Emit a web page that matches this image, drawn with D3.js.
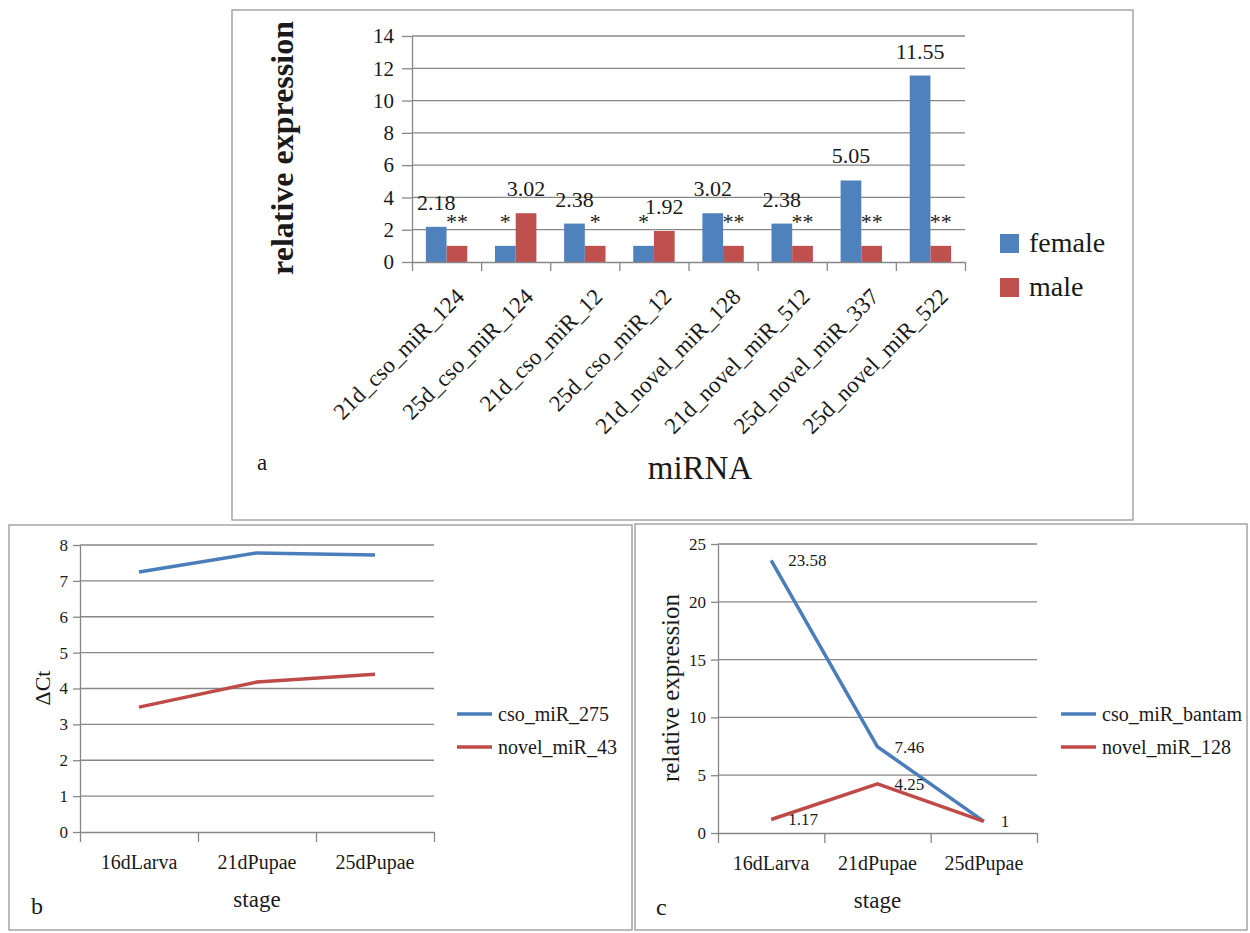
<!DOCTYPE html>
<html>
<head>
<meta charset="utf-8">
<script src="https://cdn.jsdelivr.net/npm/d3@7"></script>
<style>
  body { margin: 0; background: #fff; }
  svg text { font-family: "Liberation Serif", "Times New Roman", Times, "Nimbus Roman", "DejaVu Serif", serif; fill: #1a1a1a; }
</style>
</head>
<body>
<svg width="1250" height="933"></svg>
<script>
// panel a data
var miRNAs = ["21d_cso_miR_124", "25d_cso_miR_124", "21d_cso_miR_12", "25d_cso_miR_12",
              "21d_novel_miR_128", "21d_novel_miR_512", "25d_novel_miR_337", "25d_novel_miR_522"];
var female = [2.18, 1, 2.38, 1, 3.02, 2.38, 5.05, 11.55];
var male = [1, 3.02, 1, 1.92, 1, 1, 1, 1];
var femaleLabels = ["2.18", "*", "2.38", "*", "3.02", "2.38", "5.05", "11.55"];
var maleLabels = ["**", "3.02", "*", "1.92", "**", "**", "**", "**"];
var sexes = ["female", "male"];
var yTicksA = [0, 2, 4, 6, 8, 10, 12, 14];

// panel b / c data
var stages = ["16dLarva", "21dPupae", "25dPupae"];
var cso275 = [7.25, 7.78, 7.72];
var novel43 = [3.48, 4.18, 4.40];
var yTicksB = [0, 1, 2, 3, 4, 5, 6, 7, 8];
var bantam = [23.58, 7.46, 1];
var novel128 = [1.17, 4.25, 1];
var bantamLabels = ["23.58", "7.46", ""];
var novel128Labels = ["1.17", "4.25", "1"];
var yTicksC = [0, 5, 10, 15, 20, 25];

var blue = "#4f81bd", red = "#c0504d";
var lineBlue = "#4a7ebb", lineRed = "#be4b48";
var grid = "#878787";

var svg = d3.select("svg");

// frames
svg.append("rect").attr("x", 232).attr("y", 10).attr("width", 901).attr("height", 510)
  .attr("fill", "none").attr("stroke", "#a5a5a5").attr("stroke-width", 1.5);
svg.append("rect").attr("x", 9).attr("y", 525).attr("width", 623).attr("height", 405)
  .attr("fill", "none").attr("stroke", "#a5a5a5").attr("stroke-width", 1.5);
svg.append("rect").attr("x", 635).attr("y", 524).attr("width", 612).attr("height", 406)
  .attr("fill", "none").attr("stroke", "#a5a5a5").attr("stroke-width", 1.5);

function styleAxis(g) {
  g.attr("font-family", null).attr("font-size", null);
  g.selectAll("path").attr("stroke", grid).attr("stroke-width", 1.3);
  g.selectAll("line").attr("stroke", grid).attr("stroke-width", 1.3);
  g.selectAll("text").attr("fill", "#1a1a1a");
}

// ---------- panel a ----------
var ax0 = 412, ax1 = 965, ay0 = 262, ay1 = 36;
var xA = d3.scaleBand().domain(miRNAs).range([ax0, ax1]);
var xSex = d3.scaleBand().domain(sexes).range([0, xA.bandwidth()]).paddingOuter(0.67);
var xEdgeA = d3.scaleLinear().domain([0, miRNAs.length]).range([ax0, ax1]);
var yA = d3.scaleLinear().domain([0, 14]).range([ay0, ay1]);

var pa = svg.append("g");

pa.append("g").selectAll("line").data(yTicksA.slice(1)).enter().append("line")
  .attr("x1", ax0).attr("x2", ax1)
  .attr("y1", d => yA(d)).attr("y2", d => yA(d))
  .attr("stroke", grid).attr("stroke-width", 1.3);

var rowsA = miRNAs.map((m, i) => ({
  name: m,
  bars: [
    {sex: "female", v: female[i], lab: femaleLabels[i]},
    {sex: "male", v: male[i], lab: maleLabels[i]}
  ]
}));

var groups = pa.selectAll(".grp").data(rowsA).enter().append("g")
  .attr("class", "grp")
  .attr("transform", d => "translate(" + xA(d.name) + ",0)");

groups.selectAll("rect").data(d => d.bars).enter().append("rect")
  .attr("x", d => xSex(d.sex))
  .attr("width", xSex.bandwidth())
  .attr("y", d => yA(d.v))
  .attr("height", d => yA(0) - yA(d.v))
  .attr("fill", d => d.sex == "female" ? blue : red);

groups.selectAll("text").data(d => d.bars).enter().append("text")
  .attr("x", d => xSex(d.sex) + xSex.bandwidth() / 2)
  .attr("y", d => yA(d.v) - 17)
  .attr("text-anchor", "middle")
  .style("font-size", "22px")
  .text(d => d.lab);

var yAxisA = pa.append("g").attr("transform", "translate(" + ax0 + ",0)")
  .call(d3.axisLeft(yA).tickValues(yTicksA).tickSize(10).tickPadding(8).tickSizeOuter(0));
styleAxis(yAxisA);
yAxisA.selectAll("text").style("font-size", "21px");

var xAxisA = pa.append("g").attr("transform", "translate(0," + ay0 + ")")
  .call(d3.axisBottom(xEdgeA).tickValues(d3.range(miRNAs.length + 1)).tickFormat("").tickSize(9).tickSizeOuter(0));
styleAxis(xAxisA);

pa.selectAll(".xlab").data(miRNAs).enter().append("text")
  .attr("class", "xlab")
  .attr("text-anchor", "end")
  .attr("transform", d => "translate(" + (xA(d) + xA.bandwidth() / 2 + 19) + ",298) rotate(-45)")
  .style("font-size", "23px")
  .text(d => d);

pa.append("text").attr("transform", "translate(293,148) rotate(-90)")
  .attr("text-anchor", "middle").style("font-size", "32px").style("font-weight", "bold")
  .text("relative expression");
pa.append("text").attr("x", 700).attr("y", 479).attr("text-anchor", "middle")
  .style("font-size", "33px").text("miRNA");
pa.append("text").attr("x", 257).attr("y", 470).style("font-size", "23px").text("a");

var legA = pa.selectAll(".lega").data(sexes).enter().append("g")
  .attr("transform", (d, i) => "translate(1000," + (234 + i * 44) + ")");
legA.append("rect").attr("width", 19).attr("height", 19)
  .attr("fill", d => d == "female" ? blue : red);
legA.append("text").attr("x", 29).attr("y", 18).style("font-size", "28px").text(d => d);

// ---------- line panels ----------
function linePanel(opt) {
  var g = svg.append("g");
  var x = d3.scaleBand().domain(stages).range([opt.x0, opt.x1]);
  var xEdge = d3.scaleLinear().domain([0, stages.length]).range([opt.x0, opt.x1]);
  var y = d3.scaleLinear().domain([0, opt.max]).range([opt.y0, opt.y1]);

  g.append("g").selectAll("line").data(opt.ticks.slice(1)).enter().append("line")
    .attr("x1", opt.x0).attr("x2", opt.x1)
    .attr("y1", d => y(d)).attr("y2", d => y(d))
    .attr("stroke", grid).attr("stroke-width", 1.3);

  var ya = g.append("g").attr("transform", "translate(" + opt.x0 + ",0)")
    .call(d3.axisLeft(y).tickValues(opt.ticks).tickSize(7).tickPadding(5).tickSizeOuter(0));
  styleAxis(ya);
  ya.selectAll("text").style("font-size", "17px");

  var xa = g.append("g").attr("transform", "translate(0," + opt.y0 + ")")
    .call(d3.axisBottom(xEdge).tickValues(d3.range(stages.length + 1)).tickFormat("").tickSize(10).tickSizeOuter(0));
  styleAxis(xa);

  g.selectAll(".xl").data(stages).enter().append("text")
    .attr("x", d => x(d) + x.bandwidth() / 2).attr("y", opt.y0 + 37)
    .attr("text-anchor", "middle").style("font-size", "20px").text(d => d);

  var line = d3.line().x((d, i) => x(stages[i]) + x.bandwidth() / 2).y(d => y(d));
  opt.series.forEach(function(s, k) {
    g.append("path").datum(s.values).attr("d", line)
      .attr("fill", "none").attr("stroke", s.color).attr("stroke-width", 3.5)
      .attr("stroke-linejoin", "round");
    if (s.labels) {
      g.selectAll(".pl" + k).data(s.values).enter().append("text")
        .attr("x", (d, i) => x(stages[i]) + x.bandwidth() / 2 + 17)
        .attr("y", d => y(d)).attr("dy", "0.35em")
        .style("font-size", "17px")
        .text((d, i) => s.labels[i]);
    }
    var lg = g.append("g").attr("transform", "translate(" + opt.legX + "," + (714 + k * 33) + ")");
    lg.append("line").attr("x1", 0).attr("x2", 35).attr("stroke", s.color).attr("stroke-width", 3.5);
    lg.append("text").attr("x", 41).attr("dy", "0.35em").style("font-size", "20px").text(s.name);
  });

  g.append("text").attr("transform", "translate(" + opt.titleX + ",688) rotate(-90)")
    .attr("text-anchor", "middle").style("font-size", opt.titleSize).text(opt.title);
  g.append("text").attr("x", (opt.x0 + opt.x1) / 2).attr("y", opt.y0 + 75)
    .attr("text-anchor", "middle").style("font-size", "23px").text("stage");
  g.append("text").attr("x", opt.tagX).attr("y", opt.y0 + 82).style("font-size", "24px").text(opt.tag);
}

linePanel({
  x0: 80, x1: 434, y0: 832, y1: 545, max: 8, ticks: yTicksB,
  series: [
    {name: "cso_miR_275", values: cso275, color: lineBlue},
    {name: "novel_miR_43", values: novel43, color: lineRed}
  ],
  legX: 457, title: "\u0394Ct", titleX: 50, titleSize: "22px", tag: "b", tagX: 31
});

linePanel({
  x0: 718, x1: 1037, y0: 833, y1: 544, max: 25, ticks: yTicksC,
  series: [
    {name: "cso_miR_bantam", values: bantam, color: lineBlue, labels: bantamLabels},
    {name: "novel_miR_128", values: novel128, color: lineRed, labels: novel128Labels}
  ],
  legX: 1061, title: "relative expression", titleX: 679, titleSize: "25px", tag: "c", tagX: 656
});
</script>
</body>
</html>
